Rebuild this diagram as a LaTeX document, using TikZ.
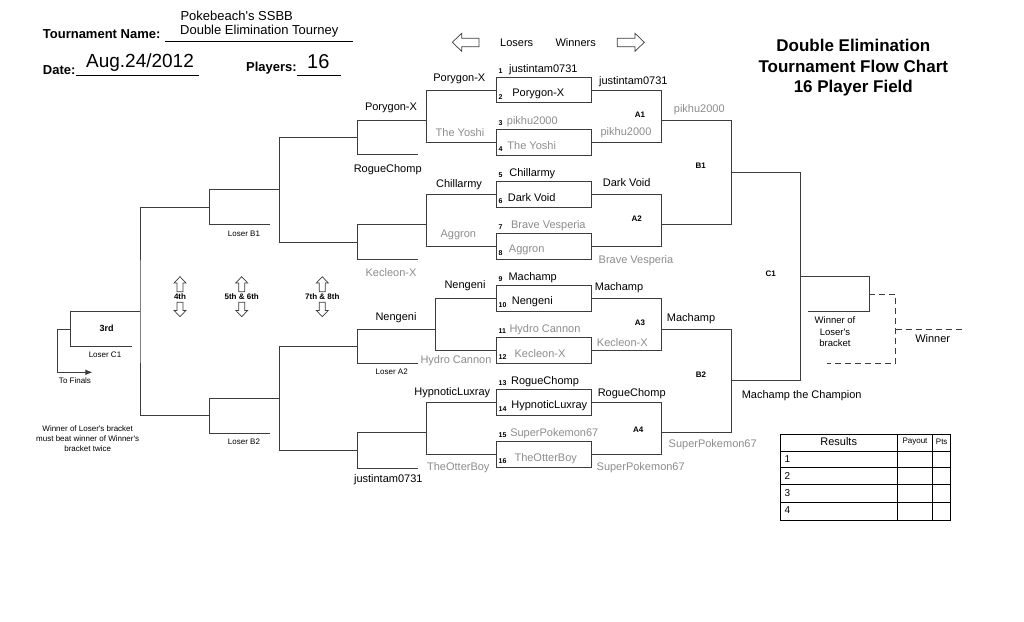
\documentclass[tikz,border=0pt]{standalone}
\usepackage{fontspec}
\setmainfont{Liberation Sans}
\usetikzlibrary{arrows.meta}

\definecolor{outgray}{RGB}{140,140,140}
\definecolor{linegray}{RGB}{60,60,60}

\tikzset{
	bracket/.style={draw=linegray, line width=0.9pt},
	matchbox/.style={draw=linegray, line width=0.9pt, minimum width=95pt, minimum height=25.6pt, inner sep=0pt},
	player/.style={font=\fontsize{11}{13}\selectfont, inner sep=0pt},
	gone/.style={player, text=outgray},
	seed/.style={font=\bfseries\fontsize{7}{8}\selectfont, inner sep=0pt, anchor=west},
	tag/.style={font=\bfseries\fontsize{8}{9}\selectfont, inner sep=0pt},
	small/.style={font=\fontsize{8}{10.3}\selectfont, inner sep=0pt, align=center},
	head/.style={font=\bfseries\fontsize{13}{15}\selectfont, inner sep=0pt, anchor=west},
	hollow/.style={draw=linegray, line width=0.7pt, fill=white},
}

\begin{document}
\begin{tikzpicture}[x=1pt,y=-1pt]
	\useasboundingbox (0,0) rectangle (1024,621);
	
	\node[head] (tname) at (42.7,34.3) {Tournament Name:};
	\node[player, font=\fontsize{13}{15}\selectfont] (event1) at (236.7,15.5) {Pokebeach\textquotesingle s SSBB};
	\node[player, font=\fontsize{13}{15}\selectfont] (event2) at (259.3,31.5) {Double Elimination Tourney};
	\node[head] (tdate) at (42.7,70) {Date:};
	\node[player, font=\fontsize{19}{21}\selectfont] (day) at (140,63) {Aug.24/2012};
	\node[head] (tplayers) at (246,68.3) {Players:};
	\node[player, font=\fontsize{20}{22}\selectfont] (count) at (318.3,61.5) {16};
	\coordinate (nl1) at (165,41.7);
	\coordinate (nl2) at (353.3,41.7);
	\coordinate (dl1) at (76,75);
	\coordinate (dl2) at (199.3,75);
	\coordinate (pl1) at (296.7,75);
	\coordinate (pl2) at (340.7,75);
	\draw[line width=0.8pt] (nl1) -- (nl2);
	\draw[line width=0.8pt] (dl1) -- (dl2);
	\draw[line width=0.8pt] (pl1) -- (pl2);
	
	\node[font=\bfseries\fontsize{17}{20.5}\selectfont, align=center, inner sep=0pt] (title) at (853.3,68) {Double Elimination\\Tournament Flow Chart\\16 Player Field};
	
	\draw[hollow] (452.3,42.3) -- (461.7,33.3) -- (461.7,38.3) -- (479,38.3) -- (479,46.7) -- (461.7,46.7) -- (461.7,51.3) -- cycle;
	\draw[hollow] (644.3,42.3) -- (635,33.3) -- (635,38.3) -- (617.3,38.3) -- (617.3,46.7) -- (635,46.7) -- (635,51.3) -- cycle;
	\node[player] (losers) at (516.7,42.3) {Losers};
	\node[player] (winners) at (575.7,42.3) {Winners};
	
	\foreach \i in {1,...,8}
		\node[matchbox] (m\i) at (544.2,{90.1+52.05*(\i-1)}) {};
	
	\foreach \who/\x/\st [count=\i] in {justintam0731/543.3/player, Porygon-X/538.3/player, pikhu2000/532.3/gone, The Yoshi/531.7/gone, Chillarmy/532.3/player, Dark Void/531.7/player, Brave Vesperia/548.3/gone, Aggron/526.7/gone, Machamp/532.7/player, Nengeni/532.3/player, Hydro Cannon/545/gone, Kecleon-X/540/gone, RogueChomp/545/player, HypnoticLuxray/549.3/player, SuperPokemon67/554.3/gone, TheOtterBoy/545.7/gone}{
		\pgfmathsetmacro{\t}{77.3+52.05*int((\i-1)/2)}
		\pgfmathsetmacro{\dn}{mod(\i,2)==1 ? -8 : 16.5}
		\pgfmathsetmacro{\ds}{mod(\i,2)==1 ? -6.5 : 19.8}
		\node[seed] (s\i) at (498.5,\t+\ds) {\i};
		\node[\st] (p\i) at (\x,\t+\dn) {\who};
	}
	
	\coordinate (A1) at (661.7,120);
	\coordinate (A2) at (661.7,224);
	\coordinate (A3) at (661.7,329);
	\coordinate (A4) at (661.7,432.7);
	\coordinate (B1) at (731,172.7);
	\coordinate (B2) at (731,380.7);
	\coordinate (C1) at (800,276.7);
	\coordinate (F) at (869.3,294.3);
	\coordinate (Fb) at (808.3,311.7);
	\coordinate (G) at (895.7,329);
	\coordinate (Gb) at (826.7,363.3);
	\coordinate (W) at (965,329);
	\draw[bracket] (m1.east) -| (A1) |- (m2.east);
	\draw[bracket] (m3.east) -| (A2) |- (m4.east);
	\draw[bracket] (m5.east) -| (A3) |- (m6.east);
	\draw[bracket] (m7.east) -| (A4) |- (m8.east);
	\draw[bracket] (A1) -| (B1) |- (A2);
	\draw[bracket] (A3) -| (B2) |- (A4);
	\draw[bracket] (B1) -| (C1) |- (B2);
	\draw[bracket] (C1) -| (F) |- (Fb);
	\draw[bracket, dash pattern=on 6pt off 4pt] (F) -| (G) |- (Gb);
	\draw[bracket, dash pattern=on 6pt off 4pt] (G) -- (W);
	
	\coordinate (L1) at (426.7,120.7);
	\coordinate (L2) at (426.7,224.7);
	\coordinate (L3) at (435.7,329);
	\coordinate (L4) at (426.7,432.7);
	\coordinate (K1) at (357.3,137.7);
	\coordinate (K1b) at (418.3,154.7);
	\coordinate (K2) at (357.3,242.3);
	\coordinate (K2b) at (418.3,259.3);
	\coordinate (K3) at (357.3,346.5);
	\coordinate (K3b) at (418.3,363.3);
	\coordinate (K4) at (357.3,450);
	\coordinate (K4b) at (418.3,468);
	\coordinate (J1) at (279.3,189.5);
	\coordinate (J2) at (279.3,398.3);
	\coordinate (I1) at (209.3,207.3);
	\coordinate (I1b) at (270,224.7);
	\coordinate (I2) at (209.3,415.7);
	\coordinate (I2b) at (270,433.3);
	\coordinate (H) at (140,311.7);
	\coordinate (T) at (70.7,329);
	\coordinate (Tb) at (131.7,346.3);
	\coordinate (Tc) at (57.7,372.3);
	\coordinate (TF) at (92.3,372.3);
	\draw[bracket] (m1.west) -| (L1) |- (m2.west);
	\draw[bracket] (m3.west) -| (L2) |- (m4.west);
	\draw[bracket] (m5.west) -| (L3) |- (m6.west);
	\draw[bracket] (m7.west) -| (L4) |- (m8.west);
	\draw[bracket] (L1) -| (K1) |- (K1b);
	\draw[bracket] (L2) -| (K2) |- (K2b);
	\draw[bracket] (L3) -| (K3) |- (K3b);
	\draw[bracket] (L4) -| (K4) |- (K4b);
	\draw[bracket] (K1) -| (J1) |- (K2);
	\draw[bracket] (K3) -| (J2) |- (K4);
	\draw[bracket] (J1) -| (I1) |- (I1b);
	\draw[bracket] (J2) -| (I2) |- (I2b);
	\draw[bracket] (I1) -| (H) |- (I2);
	\draw[bracket] (H) -| (T) |- (Tb);
	\draw[bracket, -{Latex[length=7pt,width=6pt]}] (T) -| (Tc) -- (TF);
	
	\node[player] (wa1) at (633.3,81.7) {justintam0731};
	\node[gone] (wa1b) at (626,132.7) {pikhu2000};
	\node[tag] (ta1) at (640,114.7) {A1};
	\node[player] (wa2) at (626.7,182.7) {Dark Void};
	\node[gone] (wa2b) at (636,261) {Brave Vesperia};
	\node[tag] (ta2) at (636.7,219) {A2};
	\node[player] (wa3) at (619,287.7) {Machamp};
	\node[gone] (wa3b) at (622.3,342.3) {Kecleon-X};
	\node[tag] (ta3) at (640,322.7) {A3};
	\node[player] (wa4) at (631.7,394) {RogueChomp};
	\node[gone] (wa4b) at (640.7,467.3) {SuperPokemon67};
	\node[tag] (ta4) at (638.3,430) {A4};
	\node[gone] (wb1) at (699.3,109.3) {pikhu2000};
	\node[tag] (tb1) at (700.7,166) {B1};
	\node[player] (wb2) at (691,318.3) {Machamp};
	\node[gone] (wb2b) at (712.7,444.3) {SuperPokemon67};
	\node[tag] (tb2) at (701,374.3) {B2};
	\node[tag] (tc1) at (770.7,274) {C1};
	\node[player] (champ) at (801.7,396) {Machamp the Champion};
	\node[small, font=\fontsize{9.5}{11.5}\selectfont] (wlb) at (835,331.8) {Winner of\\Loser\textquotesingle s\\bracket};
	\node[player] (winner) at (932.7,338.3) {Winner};
	
	\node[player] (la1) at (459.3,79.3) {Porygon-X};
	\node[gone] (la1b) at (460,132.3) {The Yoshi};
	\node[player] (la2) at (459,185) {Chillarmy};
	\node[gone] (la2b) at (458.3,235.3) {Aggron};
	\node[player] (la3) at (465,286) {Nengeni};
	\node[gone] (la3b) at (456,361) {Hydro Cannon};
	\node[player] (la4) at (452.3,392.7) {HypnoticLuxray};
	\node[gone] (la4b) at (458.3,467.3) {TheOtterBoy};
	\node[player] (lk1) at (391,108.3) {Porygon-X};
	\node[player] (lk1b) at (387.7,170) {RogueChomp};
	\node[gone] (lk2b) at (391,272.7) {Kecleon-X};
	\node[player] (lk3) at (396,317.7) {Nengeni};
	\node[small] (lk3b) at (391.7,372) {Loser A2};
	\node[player] (lk4b) at (388.3,479.3) {justintam0731};
	\node[small] (li1b) at (244,233.3) {Loser B1};
	\node[small] (li2b) at (244,441.7) {Loser B2};
	\node[tag, font=\bfseries\fontsize{9}{10}\selectfont] (third) at (106.7,328.3) {3rd};
	\node[small] (ltb) at (105,354.3) {Loser C1};
	\node[small] (finals) at (75,380.7) {To Finals};
	\node[small] (rule) at (87.7,438.8) {Winner of Loser\textquotesingle s bracket\\must beat winner of Winner\textquotesingle s\\bracket twice};
	
	\foreach \c in {180,241.7,322.3}{
		\draw[hollow] (\c,276.7) -- (\c+6,283) -- (\c+3,283) -- (\c+3,291.7) -- (\c-3,291.7) -- (\c-3,283) -- (\c-6,283) -- cycle;
		\draw[hollow] (\c,316.7) -- (\c+6,310.4) -- (\c+3,310.4) -- (\c+3,302.3) -- (\c-3,302.3) -- (\c-3,310.4) -- (\c-6,310.4) -- cycle;
	}
	\node[tag] (fourth) at (180,296.7) {4th};
	\node[tag] (fifth) at (241.7,296.7) {5th \& 6th};
	\node[tag] (seventh) at (322.3,297) {7th \& 8th};
	
	\draw[line width=0.8pt] (780.7,434) rectangle (950.7,520);
	\foreach \y in {451,467.7,484.7,502}
		\draw[line width=0.8pt] (780.7,\y) -- (950.7,\y);
	\draw[line width=0.8pt] (897.7,434) -- (897.7,520);
	\draw[line width=0.8pt] (932.3,434) -- (932.3,520);
	\node[player] (results) at (838.7,441.7) {Results};
	\node[small] (payout) at (915,442) {Payout};
	\node[small] (pts) at (941.7,442) {Pts};
	\foreach \y [count=\r] in {459.3,476,493,510.5}
		\node[player, anchor=west, font=\fontsize{10}{12}\selectfont] (r\r) at (784.5,\y) {\r};
	
\end{tikzpicture}
\end{document}
